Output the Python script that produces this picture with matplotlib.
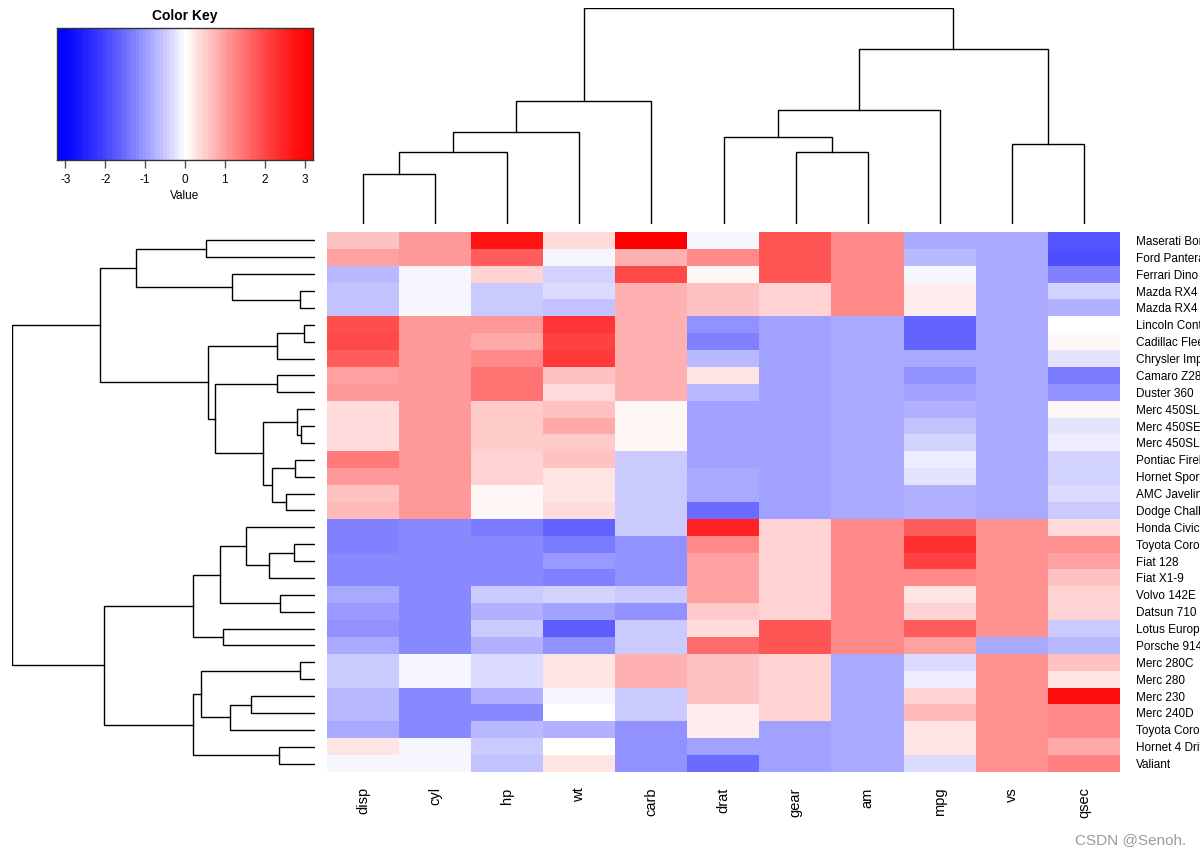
import numpy as np
import matplotlib
matplotlib.use("Agg")
import matplotlib.pyplot as plt
from matplotlib.colors import ListedColormap, BoundaryNorm

plt.rcParams['font.family'] = ['Liberation Sans', 'DejaVu Sans']

# ---------------- data (mtcars, rows in dendrogram order, top to bottom) -------------
cars = ["Maserati Bora", "Ford Pantera L", "Ferrari Dino", "Mazda RX4 Wag", "Mazda RX4",
        "Lincoln Continental", "Cadillac Fleetwood", "Chrysler Imperial", "Camaro Z28",
        "Duster 360", "Merc 450SLC", "Merc 450SE", "Merc 450SL", "Pontiac Firebird",
        "Hornet Sportabout", "AMC Javelin", "Dodge Challenger", "Honda Civic",
        "Toyota Corolla", "Fiat 128", "Fiat X1-9", "Volvo 142E", "Datsun 710",
        "Lotus Europa", "Porsche 914-2", "Merc 280C", "Merc 280", "Merc 230",
        "Merc 240D", "Toyota Corona", "Hornet 4 Drive", "Valiant"]

variables = ["disp", "cyl", "hp", "wt", "carb", "drat", "gear", "am", "mpg", "vs", "qsec"]

mpg = [15.0, 15.8, 19.7, 21.0, 21.0, 10.4, 10.4, 14.7, 13.3, 14.3, 15.2, 16.4, 17.3, 19.2,
       18.7, 15.2, 15.5, 30.4, 33.9, 32.4, 27.3, 21.4, 22.8, 30.4, 26.0, 17.8, 19.2, 22.8,
       24.4, 21.5, 21.4, 18.1]
cyl = [8, 8, 6, 6, 6, 8, 8, 8, 8, 8, 8, 8, 8, 8, 8, 8, 8, 4, 4, 4, 4, 4, 4, 4, 4, 6, 6, 4,
       4, 4, 6, 6]
disp = [301, 351, 145, 160, 160, 460, 472, 440, 350, 360, 275.8, 275.8, 275.8, 400, 360,
        304, 318, 75.7, 71.1, 78.7, 79.0, 121.0, 108.0, 95.1, 120.3, 167.6, 167.6, 140.8,
        146.7, 120.1, 258, 225]
hp = [335, 264, 175, 110, 110, 215, 205, 230, 245, 245, 180, 180, 180, 175, 175, 150, 150,
      52, 65, 66, 66, 109, 93, 113, 91, 123, 123, 95, 62, 97, 110, 105]
drat = [3.54, 4.22, 3.62, 3.90, 3.90, 3.00, 2.93, 3.23, 3.73, 3.21, 3.07, 3.07, 3.07, 3.08,
        3.15, 3.15, 2.76, 4.93, 4.22, 4.08, 4.08, 4.11, 3.85, 3.77, 4.43, 3.92, 3.92, 3.92,
        3.69, 3.70, 3.08, 2.76]
wt = [3.570, 3.170, 2.770, 2.875, 2.620, 5.424, 5.250, 5.345, 3.840, 3.570, 3.780, 4.070,
      3.730, 3.845, 3.440, 3.435, 3.520, 1.615, 1.835, 2.200, 1.935, 2.780, 2.320, 1.513,
      2.140, 3.440, 3.440, 3.150, 3.190, 2.465, 3.215, 3.460]
qsec = [14.60, 14.50, 15.50, 17.02, 16.46, 17.82, 17.98, 17.42, 15.41, 15.84, 18.00, 17.40,
        17.60, 17.05, 17.02, 17.30, 16.87, 18.52, 19.90, 19.47, 18.90, 18.60, 18.61, 16.90,
        16.70, 18.90, 18.30, 22.90, 20.00, 20.01, 19.44, 20.22]
vs = [0, 0, 0, 0, 0, 0, 0, 0, 0, 0, 0, 0, 0, 0, 0, 0, 0, 1, 1, 1, 1, 1, 1, 1, 0, 1, 1, 1, 1,
      1, 1, 1]
am = [1, 1, 1, 1, 1, 0, 0, 0, 0, 0, 0, 0, 0, 0, 0, 0, 0, 1, 1, 1, 1, 1, 1, 1, 1, 0, 0, 0, 0,
      0, 0, 0]
gear = [5, 5, 5, 4, 4, 3, 3, 3, 3, 3, 3, 3, 3, 3, 3, 3, 3, 4, 4, 4, 4, 4, 4, 5, 5, 4, 4, 4,
        4, 3, 3, 3]
carb = [8, 4, 6, 4, 4, 4, 4, 4, 4, 4, 3, 3, 3, 2, 2, 2, 2, 2, 1, 1, 1, 2, 1, 2, 2, 4, 4, 2,
        2, 1, 1, 1]

# column dendrogram (leaves = variables in display order; new clusters numbered from 11)
col_merges = [(0, 1), (11, 2), (12, 3), (13, 4), (6, 7), (5, 15), (16, 8), (9, 10),
              (17, 18), (14, 19)]
col_heights = [49.7, 72.3, 92.3, 123.3, 71.7, 87.0, 114.0, 80.0, 175.0, 215.7]

# row dendrogram (leaves = cars in display order; new clusters numbered from 32)
row_merges = [(0, 1), (3, 4), (2, 33), (32, 34), (5, 6), (36, 7), (8, 9), (11, 12),
              (10, 39), (13, 14), (15, 16), (41, 42), (40, 43), (38, 44), (37, 45),
              (35, 46), (18, 19), (48, 20), (17, 49), (21, 22), (50, 51), (23, 24),
              (52, 53), (25, 26), (27, 28), (56, 29), (55, 57), (30, 31), (58, 59),
              (54, 60), (47, 61)]
row_heights = [108.7, 14.7, 83.0, 179.3, 11.0, 38.3, 38.0, 14.3, 18.0, 20.0, 28.7, 43.0,
               52.3, 99.7, 107.0, 215.7, 21.0, 45.7, 69.0, 35.3, 95.0, 92.0, 122.3, 14.7,
               63.7, 84.7, 113.7, 35.7, 122.3, 211.3, 303.3]

key_ticks = [-3, -2, -1, 0, 1, 2, 3]

# ---------------- column scaling (as heatmap.2 scale="column") ----------------
raw = {"mpg": mpg, "cyl": cyl, "disp": disp, "hp": hp, "drat": drat, "wt": wt,
       "qsec": qsec, "vs": vs, "am": am, "gear": gear, "carb": carb}
Z = np.column_stack([
    (np.array(raw[v], float) - np.mean(raw[v])) / np.std(raw[v], ddof=1) for v in variables
])
M = np.abs(Z).max()

# ---------------- colours ----------------
NB = 75
t = np.linspace(-1, 1, NB)
cols = []
for v in t:
    f = abs(v)
    o = (1 - f) ** 1.3
    cols.append((1.0, o, o) if v > 0 else (o, o, 1.0))
cmap = ListedColormap(cols)
bounds = np.linspace(-M, M, NB + 1)
norm = BoundaryNorm(bounds, NB)

# ---------------- figure ----------------
W, H = 1200, 852
fig = plt.figure(figsize=(W / 100, H / 100), dpi=100)


def rect(x0, y0, x1, y1):
    return [x0 / W, 1 - y1 / H, (x1 - x0) / W, (y1 - y0) / H]


HX0, HX1, HY0, HY1 = 327, 1120, 232, 772
nr, nc = Z.shape

# heatmap
ax = fig.add_axes(rect(HX0, HY0, HX1, HY1))
ax.imshow(Z, cmap=cmap, norm=norm, aspect='auto', interpolation='nearest')
ax.set_xlim(-0.5, nc - 0.5)
ax.set_ylim(nr - 0.5, -0.5)
for s in ax.spines.values():
    s.set_visible(False)
ax.set_xticks(range(nc))
ax.set_xticklabels(variables, rotation=90, fontsize=10.5, va='top', ha='center')
ax.tick_params(axis='x', length=0, pad=11)
ax.yaxis.tick_right()
ax.set_yticks(range(nr))
ax.set_yticklabels(cars, fontsize=8.5)
ax.tick_params(axis='y', length=0, pad=11.5)


def draw_dendro(axd, merges, heights, n, orient):
    pos = {i: float(i) for i in range(n)}
    hh = {i: 0.0 for i in range(n)}
    for k, (a, b) in enumerate(merges):
        hk = heights[k]
        pa, pb, ha, hb = pos[a], pos[b], hh[a], hh[b]
        if orient == 'top':
            axd.plot([pa, pa, pb, pb], [ha, hk, hk, hb], color='black', lw=1.0,
                     solid_joinstyle='miter')
        else:
            axd.plot([ha, hk, hk, hb], [pa, pa, pb, pb], color='black', lw=1.0,
                     solid_joinstyle='miter')
        pos[n + k] = (pa + pb) / 2
        hh[n + k] = hk


# column dendrogram
axc = fig.add_axes(rect(HX0, 8, HX1, 224))
draw_dendro(axc, col_merges, col_heights, nc, 'top')
axc.set_xlim(-0.5, nc - 0.5)
axc.set_ylim(0, max(col_heights))
axc.axis('off')

# row dendrogram
axr = fig.add_axes(rect(12, HY0, 315, HY1))
draw_dendro(axr, row_merges, row_heights, nr, 'left')
axr.set_ylim(nr - 0.5, -0.5)
axr.set_xlim(max(row_heights), 0)
axr.axis('off')

# colour key
axk = fig.add_axes(rect(57, 28, 313, 160))
grad = np.linspace(-M, M, 600).reshape(1, -1)
axk.imshow(grad, cmap=cmap, norm=norm, aspect='auto', extent=[-M, M, 0, 1],
           interpolation='nearest')
axk.set_xlim(-M, M)
axk.set_ylim(0, 1)
axk.set_yticks([])
axk.set_xticks(key_ticks)
axk.set_xticklabels([str(v) for v in key_ticks], fontsize=8.5)
axk.tick_params(axis='x', length=6, width=1, color='#555555', pad=4)
for s in axk.spines.values():
    s.set_linewidth(1.0)
    s.set_color('#333333')
axk.set_title("Color Key", fontsize=10, fontweight='bold', pad=6)
axk.set_xlabel("Value", fontsize=8.5, labelpad=3)

# watermark
fig.text(1186 / W, 1 - 840 / H, "CSDN @Senoh.", ha='right', va='center',
         fontsize=11, color='#9a9a9a')

fig.savefig("out.png", dpi=100)
